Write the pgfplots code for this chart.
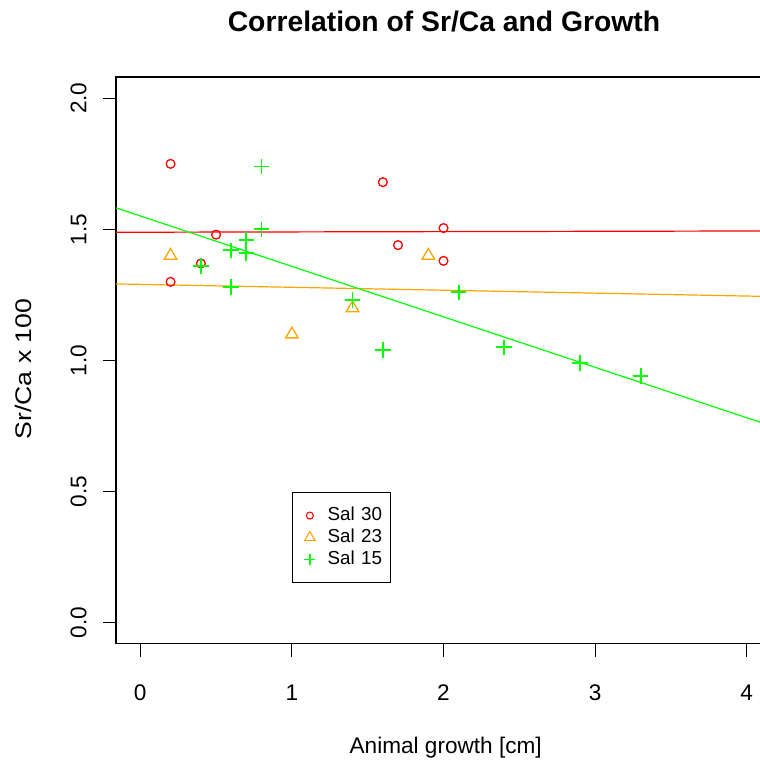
\documentclass[border=0pt]{standalone}
\usepackage{fontspec}
\setmainfont{Liberation Sans}
\usepackage{pgfplots}
\pgfplotsset{compat=1.18}
\definecolor{rred}{RGB}{255,0,0}
\definecolor{rorange}{RGB}{255,165,0}
\definecolor{rgreen}{RGB}{0,255,0}
\begin{document}
\begin{tikzpicture}
\path[use as bounding box] (0,0) rectangle (380pt,380pt);
\begin{axis}[
  at={(58pt,58.15pt)}, anchor=south west,
  scale only axis, width=327.5pt, height=283.2pt,
  xmin=-0.16, xmax=4.16, ymin=-0.08, ymax=2.08,
  xtick={0,1,2,3,4}, ytick={0,0.5,1,1.5,2},
  xtick pos=bottom, ytick pos=left,
  tick align=outside, major tick length=6.5pt,
  axis line style={line width=0.8pt},
  every tick/.style={black, line width=0.5pt},
  /pgf/number format/assume math mode=true,
  ticklabel style={font=\fontsize{11.3}{13}\selectfont},
  yticklabel style={rotate=90, anchor=south, inner xsep=0pt, inner ysep=8pt,
    /pgf/number format/fixed, /pgf/number format/fixed zerofill, /pgf/number format/precision=1},
  xticklabel style={inner xsep=0pt, inner ysep=14pt},
  legend style={at={(axis cs:0.998,0.497)}, anchor=north west,
    draw=black, line width=0.5pt, fill=white,
    font=\fontsize{9.4}{11}\selectfont,
    inner xsep=0pt, inner ysep=5.85pt, row sep=0pt, column sep=0pt,
    nodes={inner xsep=0pt, inner ysep=1pt, text height=7.2pt, text depth=1.8pt, text width=31.3pt}},
  legend cell align=left,
  legend image code/.code={\path (0pt,0pt) (17pt,0pt);
    \draw[mark repeat=2, mark phase=2, #1] plot coordinates {(0pt,0pt) (8.5pt,0pt) (17pt,0pt)};},
]
% Sal 30
\addplot[forget plot, only marks, mark=o, mark size=2.2pt, color=rred, line width=0.65pt]
  coordinates {(0.2,1.75) (0.2,1.30) (0.4,1.37) (0.5,1.48) (1.6,1.68) (1.7,1.44) (2.0,1.505) (2.0,1.38)};
% Sal 23
\addplot[forget plot, only marks, mark=triangle, mark size=3.6pt, color=rorange, line width=0.65pt]
  coordinates {(0.2,1.40) (1.0,1.10) (1.4,1.20) (1.9,1.40)};
% Sal 15
\addplot[forget plot, only marks, mark=+, mark size=3.9pt, color=rgreen, line width=0.9pt,
  mark options={draw=rgreen, line width=0.9pt}]
  coordinates {(0.4,1.36) (0.6,1.42) (0.6,1.28) (0.7,1.46) (0.7,1.41) (0.8,1.74) (0.8,1.50)
               (1.4,1.23) (1.6,1.04) (2.1,1.26) (2.4,1.05) (2.9,0.99) (3.3,0.94)};
% regression lines
\addplot[forget plot, color=rred, line width=0.6pt] coordinates {(-0.16,1.489) (4.16,1.494)};
\addplot[forget plot, color=rorange, line width=0.6pt] coordinates {(-0.16,1.292) (4.16,1.244)};
\addplot[forget plot, color=rgreen, line width=0.6pt] coordinates {(-0.16,1.582) (4.16,0.751)};
% legend
\addlegendimage{only marks, mark=o, mark size=1.75pt, color=rred, line width=0.55pt}
\addlegendentry{Sal 30}
\addlegendimage{only marks, mark=triangle, mark size=3.1pt, color=rorange, line width=0.55pt}
\addlegendentry{Sal 23}
\addlegendimage{only marks, mark=+, mark size=2.75pt, color=rgreen, line width=0.8pt,
  mark options={draw=rgreen, line width=0.8pt}}
\addlegendentry{Sal 15}
\end{axis}
\node[anchor=base, font=\bfseries\fontsize{14.15}{17}\selectfont] at (222pt,364.25pt) {Correlation of Sr/Ca and Growth};
\node[anchor=base, font=\fontsize{11.3}{13}\selectfont] at (222.85pt,3.35pt) {Animal growth [cm]};
\node[anchor=base, rotate=90, font=\fontsize{11.3}{13}\selectfont] at (15.9pt,195.5pt) {\scalebox{1.18}[1]{Sr/Ca x 100}};
\end{tikzpicture}
\end{document}
